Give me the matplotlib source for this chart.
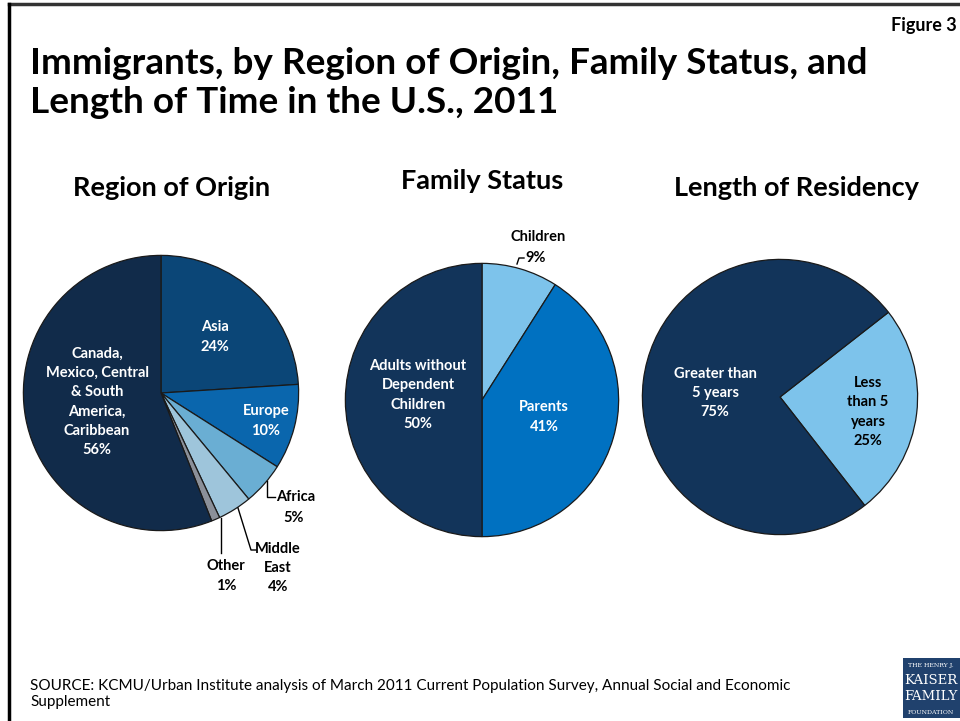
import matplotlib
matplotlib.use("Agg")
import matplotlib.pyplot as plt
from matplotlib.patches import Rectangle
from matplotlib.lines import Line2D

plt.rcParams['font.family'] = ['Lato', 'DejaVu Sans']

# region of origin
region_labels = ['Asia', 'Europe', 'Africa', 'Middle East', 'Other',
                 'Canada, Mexico, Central & South America, Caribbean']
region_values = [24, 10, 5, 4, 1, 56]
region_colors = ['#0b4677', '#0a66ad', '#6aaed3', '#9ec5db', '#8b9099', '#112b4a']

# family status
family_labels = ['Children', 'Parents', 'Adults without Dependent Children']
family_values = [9, 41, 50]
family_colors = ['#7dc3eb', '#0071c1', '#12345a']

# length of residency
residency_labels = ['Less than 5 years', 'Greater than 5 years']
residency_values = [25, 75]
residency_colors = ['#7dc3eb', '#12345a']

W, H = 960, 721
fig = plt.figure(figsize=(W / 100, H / 100), dpi=100)


def px(x, y):
    return x / W, 1 - y / H


def pie_axes(cx, cy, r):
    ax = fig.add_axes([(cx - r) / W, (H - cy - r) / H, 2 * r / W, 2 * r / H])
    ax.set_xlim(-1, 1)
    ax.set_ylim(-1, 1)
    ax.set_aspect('equal')
    ax.axis('off')
    return ax


def draw_pie(ax, values, colors, start):
    ax.pie(values, colors=colors, startangle=start, counterclock=False, radius=1,
           wedgeprops=dict(edgecolor='#1a1a1a', linewidth=0.9))
    ax.set_xlim(-1.01, 1.01)
    ax.set_ylim(-1.01, 1.01)


def label(x, y, s, color='white', size=10.5, **kw):
    fig.text(*px(x, y), s, color=color, fontsize=size, fontweight='bold',
             ha='center', va='center', linespacing=1.47, **kw)


def leader(xs, ys):
    fig.add_artist(Line2D([x / W for x in xs], [1 - y / H for y in ys],
                          color='black', linewidth=1))


# frame
fig.add_artist(Line2D([9 / W, 1], [1 - 4 / H, 1 - 4 / H], color='#333333', linewidth=2.5))
fig.add_artist(Line2D([9 / W, 9 / W], [0, 1 - 4 / H], color='black', linewidth=2.5))

fig.text(*px(957, 25), 'Figure 3', fontsize=13, fontweight='bold', ha='right', va='center')
fig.text(*px(30, 83), 'Immigrants, by Region of Origin, Family Status, and\n'
         'Length of Time in the U.S., 2011', fontsize=26.6, fontweight='bold',
         ha='left', va='center', linespacing=1.2)

label(172, 188, 'Region of Origin', color='black', size=19.5)
label(482, 181, 'Family Status', color='black', size=19.5)
label(796, 188, 'Length of Residency', color='black', size=19.5)

# region of origin pie
ax1 = pie_axes(161, 393, 139)
draw_pie(ax1, region_values, region_colors, 90)
label(215, 337, f'Asia\n{region_values[0]}%')
label(266, 421, f'Europe\n{region_values[1]}%')
label(97, 402, f'Canada,\nMexico, Central\n& South\nAmerica,\nCaribbean\n{region_values[5]}%')
leader([267, 267, 275], [481, 497, 497])
fig.text(*px(276, 497), 'Africa', fontsize=10.5, fontweight='bold', ha='left', va='center')
label(294, 518, f'{region_values[2]}%', color='black')
leader([238, 251, 256], [508, 550, 550])
label(278, 568, f'Middle\nEast\n{region_values[3]}%', color='black')
leader([221, 221], [518, 553])
label(226, 576, f'Other\n{region_values[4]}%', color='black')

# family status pie
ax2 = pie_axes(482, 400, 138)
draw_pie(ax2, family_values, family_colors, 90)
label(538, 237, 'Children', color='black')
label(536, 258, f'{family_values[0]}%', color='black')
leader([517, 519, 524], [264, 258, 258])
label(544, 417, f'Parents\n{family_values[1]}%')
label(418, 395, f'Adults without\nDependent\nChildren\n{family_values[2]}%')

# length of residency pie
ax3 = pie_axes(780, 397, 139)
draw_pie(ax3, residency_values, residency_colors, 38)
label(715, 393, f'Greater than\n5 years\n{residency_values[1]}%')
label(868, 412, f'Less\nthan 5\nyears\n{residency_values[0]}%', color='black')

fig.text(*px(30, 694), 'SOURCE: KCMU/Urban Institute analysis of March 2011 Current Population Survey, '
         'Annual Social and Economic\nSupplement', fontsize=11, ha='left', va='center',
         linespacing=1.25)

# foundation logo
fig.add_artist(Rectangle(px(903, 718), 57 / W, 60 / H, transform=fig.transFigure,
                         facecolor='#20416d', edgecolor='none'))
for yy, txt, sz in [(665, 'THE HENRY J.', 4.5), (680, 'KAISER', 9.5),
                    (697, 'FAMILY', 9.5), (712, 'FOUNDATION', 4.5)]:
    fig.text(*px(931, yy), txt, color='white', fontsize=sz, family='DejaVu Serif',
             ha='center', va='center')

fig.savefig('out.png', dpi=100)
